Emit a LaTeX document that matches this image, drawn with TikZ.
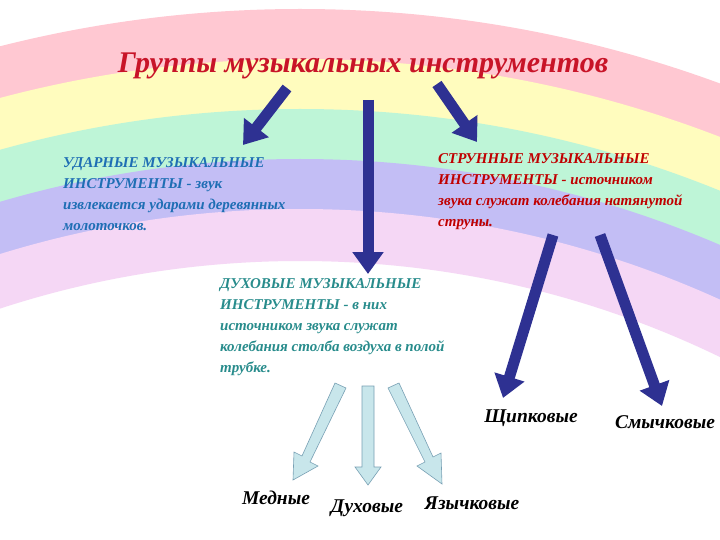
\documentclass[tikz,border=0pt]{standalone}
\usepackage{fontspec}
\setmainfont{Liberation Serif}
\usetikzlibrary{arrows.meta}
\definecolor{arrblue}{RGB}{46,49,146}
\definecolor{titlered}{RGB}{200,20,40}
\definecolor{txtblue}{RGB}{30,110,180}
\definecolor{txtred}{RGB}{192,0,0}
\definecolor{txtteal}{RGB}{40,140,140}
\definecolor{lcyan}{RGB}{200,230,235}
\definecolor{lout}{RGB}{120,160,180}
\definecolor{bred}{RGB}{255,200,210}
\definecolor{byel}{RGB}{255,252,190}
\definecolor{bgrn}{RGB}{190,245,215}
\definecolor{bpur}{RGB}{195,190,245}
\definecolor{bpnk}{RGB}{245,215,245}
\tikzset{
  big/.style={draw=arrblue, line width=11pt, -{Triangle[width=30pt,length=22pt]}},
  small/.style={draw=lout, fill=lcyan, line width=0.6pt},
  desc/.style={anchor=north west, align=left, font=\bfseries\itshape\fontsize{15}{21}\selectfont, inner sep=0pt},
  lbl/.style={font=\bfseries\itshape\fontsize{19.5}{21}\selectfont, text=black, inner sep=0pt},
}
\begin{document}
\begin{tikzpicture}[x=1pt,y=-1pt]
\useasboundingbox (0,0) rectangle (720,540);
\fill[white] (0,0) rectangle (720,540);
\begin{scope}
\clip (0,0) rectangle (720,540);
\draw[bred, line width=52pt] (300,1225) circle (1190);
\draw[byel, line width=52pt] (300,1225) circle (1140);
\draw[bgrn, line width=52pt] (300,1225) circle (1090);
\draw[bpur, line width=52pt] (300,1225) circle (1040);
\draw[bpnk, line width=52pt] (300,1225) circle (990);
\end{scope}
\node[font=\bfseries\itshape\fontsize{30}{32}\selectfont, text=titlered] (title) at (363,66) {Группы музыкальных инструментов};
\coordinate (a1s) at (287,88); \coordinate (a1e) at (243,145);
\coordinate (a2s) at (368,100); \coordinate (a2e) at (368,274);
\coordinate (a3s) at (437,84); \coordinate (a3e) at (477,142);
\coordinate (a4s) at (553,235); \coordinate (a4e) at (503,398);
\coordinate (a5s) at (600,235); \coordinate (a5e) at (662,406);
\draw[big] (a1s) -- (a1e);
\draw[big] (a2s) -- (a2e);
\draw[big] (a3s) -- (a3e);
\draw[big] (a4s) -- (a4e);
\draw[big] (a5s) -- (a5e);
\node[desc, text=txtblue] (udar) at (63,157) {УДАРНЫЕ МУЗЫКАЛЬНЫЕ\\ИНСТРУМЕНТЫ - звук\\извлекается ударами деревянных\\молоточков.};
\node[desc, text=txtred] (strun) at (438,153) {СТРУННЫЕ МУЗЫКАЛЬНЫЕ\\ИНСТРУМЕНТЫ - источником\\звука служат колебания натянутой\\струны.};
\node[desc, text=txtteal] (duh) at (220,278) {ДУХОВЫЕ МУЗЫКАЛЬНЫЕ\\ИНСТРУМЕНТЫ - в них\\источником звука служат\\колебания столба воздуха в полой\\трубке.};
% light arrows
\draw[small] (335,383) -- (346,388) -- (310,462) -- (318,466) -- (293,480) -- (294,452) -- (302,456) -- cycle;
\draw[small] (362,386) -- (374,386) -- (374,467) -- (381,467) -- (368,485) -- (355,467) -- (362,467) -- cycle;
\draw[small] (388,388) -- (399,383) -- (433,457) -- (441,453) -- (442,484) -- (417,466) -- (425,462) -- cycle;
\node[lbl] (shch) at (531,418) {Щипковые};
\node[lbl] (smych) at (665,422) {Смычковые};
\node[lbl] (med) at (276,498) {Медные};
\node[lbl] (duhv) at (367,508) {Духовые};
\node[lbl] (yaz) at (472,503) {Язычковые};
\end{tikzpicture}
\end{document}
